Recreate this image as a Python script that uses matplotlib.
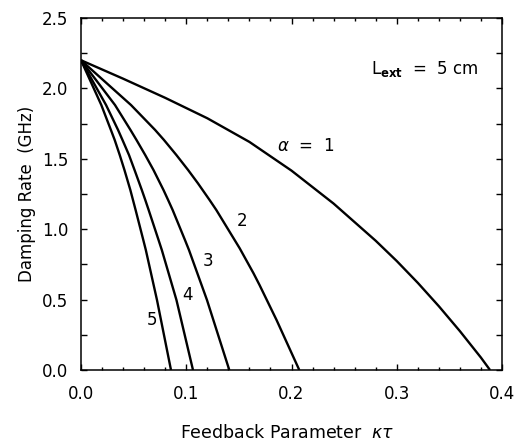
import matplotlib
matplotlib.use("Agg")
import matplotlib.pyplot as plt
from matplotlib.ticker import MultipleLocator

plt.rcParams['font.family'] = ['DejaVu Sans']
plt.rcParams['mathtext.fontset'] = 'dejavusans'

# Damping rate (GHz) vs feedback parameter kappa*tau for L_ext = 5 cm
x_a1 = [0, 0.04, 0.08, 0.12, 0.16, 0.20, 0.24, 0.28, 0.30, 0.32, 0.34, 0.36, 0.38, 0.3886]
y_a1 = [2.2, 2.069, 1.933, 1.788, 1.620, 1.416, 1.182, 0.918, 0.774, 0.619, 0.453, 0.276, 0.088, 0.0]

x_a2 = [0, 0.0475, 0.0704, 0.0788, 0.0906, 0.1018, 0.1111, 0.1222, 0.1286, 0.1508, 0.1639, 0.1696, 0.1858, 0.2074]
y_a2 = [2.2, 1.882, 1.705, 1.634, 1.527, 1.420, 1.326, 1.207, 1.136, 0.864, 0.687, 0.604, 0.355, 0.0]

x_a3 = [0, 0.0323, 0.0470, 0.0527, 0.0610, 0.0689, 0.0784, 0.0828, 0.0871, 0.0988, 0.1026, 0.1197, 0.1409]
y_a3 = [2.2, 1.882, 1.705, 1.634, 1.527, 1.420, 1.278, 1.207, 1.136, 0.923, 0.852, 0.497, 0.0]

x_a4 = [0, 0.0238, 0.0352, 0.0394, 0.0456, 0.0509, 0.0578, 0.0611, 0.0643, 0.0737, 0.0768, 0.0907, 0.1064]
y_a4 = [2.2, 1.882, 1.705, 1.634, 1.527, 1.420, 1.278, 1.207, 1.136, 0.923, 0.852, 0.497, 0.0]

x_a5 = [0, 0.0193, 0.0284, 0.0320, 0.0368, 0.0413, 0.0469, 0.0494, 0.0519, 0.0592, 0.0616, 0.0722, 0.0855]
y_a5 = [2.2, 1.882, 1.705, 1.634, 1.527, 1.420, 1.278, 1.207, 1.136, 0.923, 0.852, 0.497, 0.0]

curve_labels = [r'$\alpha$  =  1', '2', '3', '4', '5']
label_x = [0.213, 0.1527, 0.121, 0.1014, 0.0672]
label_y = [1.593, 1.058, 0.774, 0.533, 0.355]

xticks = [0.0, 0.1, 0.2, 0.3, 0.4]
yticks = [0.0, 0.5, 1.0, 1.5, 2.0, 2.5]

fig = plt.figure(figsize=(5.22, 4.41), dpi=100)
ax = fig.add_axes([81/522, 71/441, 421/522, 352/441])

for xs, ys in [(x_a1, y_a1), (x_a2, y_a2), (x_a3, y_a3), (x_a4, y_a4), (x_a5, y_a5)]:
    ax.plot(xs, ys, color='black', lw=1.7, solid_joinstyle='round', solid_capstyle='butt')

for t, tx, ty in zip(curve_labels, label_x, label_y):
    ax.text(tx, ty, t, fontsize=12, ha='center', va='center')

ax.text(0.276, 2.136, r'L$_{\mathbf{ext}}$  =  5 cm', fontsize=12, ha='left', va='center')

ax.set_xlim(0, 0.4)
ax.set_ylim(0, 2.5)
ax.set_xticks(xticks)
ax.set_yticks(yticks)
ax.set_xticklabels([f'{v:.1f}' for v in xticks])
ax.set_yticklabels([f'{v:.1f}' for v in yticks])
ax.xaxis.set_minor_locator(MultipleLocator(0.02))
ax.yaxis.set_minor_locator(MultipleLocator(0.25))

ax.tick_params(which='both', direction='in', top=True, right=True, labelsize=12, width=1.0)
ax.tick_params(axis='x', which='major', length=4.5, pad=11)
ax.tick_params(axis='x', which='minor', length=2.5)
ax.tick_params(axis='y', which='major', length=4.5, pad=9)
ax.tick_params(axis='y', which='minor', length=4.0)
for s in ax.spines.values():
    s.set_linewidth(1.1)

ax.set_xlabel(r'Feedback Parameter  $\kappa\tau$', fontsize=12.5, va='center')
ax.xaxis.set_label_coords(0.49, -0.179)
ax.set_ylabel('Damping Rate  (GHz)', fontsize=12, va='center')
ax.yaxis.set_label_coords(-0.128, 0.5)

fig.savefig('out.png', dpi=100)
